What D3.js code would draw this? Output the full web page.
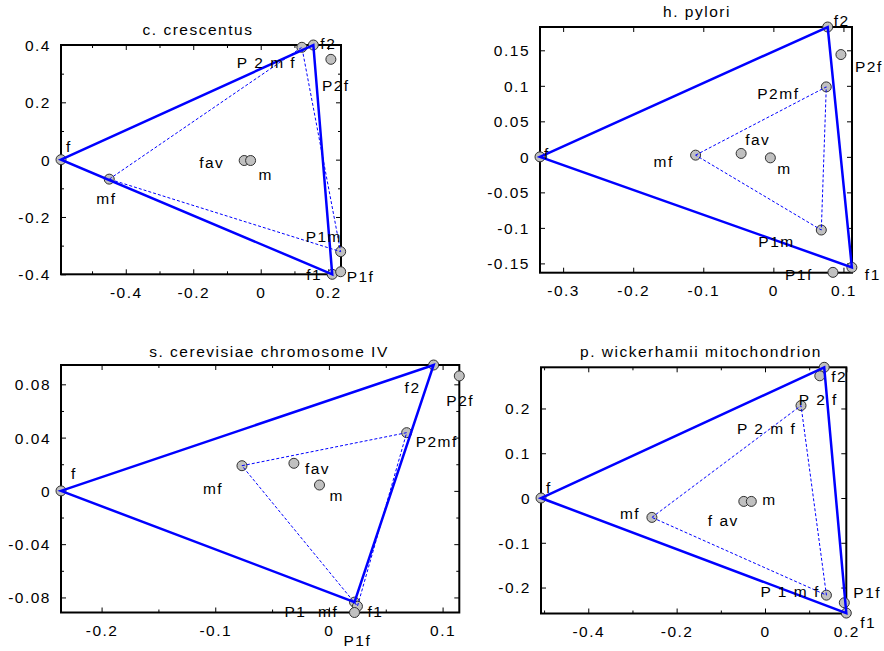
<!DOCTYPE html>
<html>
<head>
<meta charset="utf-8">
<script src="https://cdn.jsdelivr.net/npm/d3@7"></script>
<style>
  html, body { margin: 0; padding: 0; background: #fff; }
  svg { display: block; }
  text { font-family: "Liberation Sans", Arial, sans-serif; font-size: 15.5px; letter-spacing: 1.5px; fill: #000; white-space: pre; }
</style>
</head>
<body>
<svg id="chart" width="884" height="651"></svg>
<script>
// ---------------- DATA ----------------
const panelTitles = ["c. crescentus", "h. pylori", "s. cerevisiae chromosome IV", "p. wickerhamii mitochondrion"];

// Panel 1: c. crescentus
const ccNames = ["f", "f2", "P2mf", "P2f", "fav", "m", "mf", "P1m", "f1", "P1f"];
const ccLabels = ["f", "f2", "P 2 m f", "P2f", "fav", "m", "mf", "P1m", "f1", "P1f"];
const ccX = [-0.592, 0.156, 0.122, 0.208, -0.049, -0.030, -0.449, 0.237, 0.212, 0.237];
const ccY = [0.000, 0.400, 0.392, 0.350, -0.003, -0.003, -0.068, -0.321, -0.400, -0.391];
const ccXDomain = [-0.592, 0.238];
const ccYDomain = [-0.4, 0.4];
const ccXTicks = [-0.4, -0.2, 0, 0.2];
const ccXMinor = [-0.5, -0.3, -0.1, 0.1];
const ccYTicks = [-0.4, -0.2, 0, 0.2, 0.4];
const ccYMinor = [-0.3, -0.1, 0.1, 0.3];
const ccSolid = ["f", "f2", "f1"];
const ccDashed = ["mf", "P2mf", "P1m"];

// Panel 2: h. pylori
const hpNames = ["f", "f2", "P2f", "P2mf", "fav", "m", "mf", "P1m", "f1", "P1f"];
const hpLabels = ["f", "f2", "P2f", "P2mf", "fav", "m", "mf", "P1m", "f1", "P1f"];
const hpX = [-0.333, 0.0775, 0.0964, 0.0755, -0.046, -0.0043, -0.111, 0.0684, 0.112, 0.085];
const hpY = [0.000, 0.1828, 0.144, 0.0985, 0.0048, -0.0014, 0.0024, -0.103, -0.1556, -0.1626];
const hpXDomain = [-0.333, 0.1122];
const hpYDomain = [-0.1631, 0.1828];
const hpXTicks = [-0.3, -0.2, -0.1, 0, 0.1];
const hpXMinor = [];
const hpYTicks = [-0.15, -0.1, -0.05, 0, 0.05, 0.1, 0.15];
const hpYMinor = [];
const hpSolid = ["f", "f2", "f1"];
const hpDashed = ["mf", "P2mf", "P1m"];

// Panel 3: s. cerevisiae chromosome IV
const scNames = ["f", "f2", "P2f", "P2mf", "mf", "fav", "m", "f1", "P1mf", "P1f"];
const scLabels = ["f", "f2", "P2f", "P2mf", "mf", "fav", "m", "f1", "P1  mf", "P1f"];
const scX = [-0.2357, 0.0921, 0.1147, 0.0684, -0.0765, -0.0308, -0.0083, 0.0225, 0.0251, 0.0225];
const scY = [0.000, 0.0945, 0.0863, 0.0437, 0.0189, 0.0207, 0.0044, -0.0835, -0.0866, -0.0913];
const scXDomain = [-0.2357, 0.1147];
const scYDomain = [-0.0913, 0.0945];
const scXTicks = [-0.2, -0.1, 0, 0.1];
const scXMinor = [-0.15, -0.05, 0.05];
const scYTicks = [-0.08, -0.04, 0, 0.04, 0.08];
const scYMinor = [-0.06, -0.02, 0.02, 0.06];
const scSolid = ["f", "f2", "f1"];
const scDashed = ["mf", "P2mf", "P1mf"];

// Panel 4: p. wickerhamii mitochondrion
const pwNames = ["f", "f2", "P2f", "P2mf", "fav", "m", "mf", "P1mf", "P1f", "f1"];
const pwLabels = ["f", "f2", "P 2 f", "P 2 m f", "f av", "m", "mf", "P 1 m f", "P1f", "f1"];
const pwX = [-0.507, 0.134, 0.124, 0.0815, -0.048, -0.031, -0.256, 0.139, 0.1795, 0.184];
const pwY = [0.000, 0.292, 0.273, 0.2065, -0.0076, -0.0076, -0.0433, -0.217, -0.234, -0.257];
const pwXDomain = [-0.507, 0.184];
const pwYDomain = [-0.258, 0.292];
const pwXTicks = [-0.4, -0.2, 0, 0.2];
const pwXMinor = [-0.5, -0.3, -0.1, 0.1];
const pwYTicks = [-0.2, -0.1, 0, 0.1, 0.2];
const pwYMinor = [];
const pwSolid = ["f", "f2", "f1"];
const pwDashed = ["mf", "P2mf", "P1mf"];

// ---------------- LAYOUT / STYLE ----------------
const layouts = [
  { left: 61,  right: 341,   top: 45,    bottom: 274.3, titleX: 198, titleY: 35 },
  { left: 540, right: 852,   top: 27,    bottom: 272.7, titleX: 697, titleY: 17 },
  { left: 61,  right: 459.3, top: 365,   bottom: 612.5, titleX: 269, titleY: 357 },
  { left: 541, right: 846.3, top: 367.3, bottom: 613.5, titleX: 701, titleY: 357 }
];
// label offsets (pixels, start x / baseline y relative to the point)
const ccOffsets = [[5,-8],[7,4],[-65,21],[-9,32],[-45,7],[8,19],[-13,25],[-35,-10],[-26,6],[6,10]];
const hpOffsets = [[4,2],[6,-1],[14,17],[-69,12],[4,-8],[7,16],[-42,12],[-63,17],[13,13],[-48,8]];
const scOffsets = [[10,-12],[-29,28],[-13,30],[9,14],[-39,28],[11,11],[10,16],[13,15],[-73,11],[-11,33]];
const pwOffsets = [[5,-5],[7,15],[-21,29],[-64,28],[-36,25],[11,4],[-32,2],[-66,2],[9,-5],[14,15]];

const BLUE = "#0000ff";

const panels = [
  { title: panelTitles[0], names: ccNames, labels: ccLabels, xs: ccX, ys: ccY, xDom: ccXDomain, yDom: ccYDomain,
    xt: ccXTicks, xm: ccXMinor, yt: ccYTicks, ym: ccYMinor, solid: ccSolid, dashed: ccDashed, offs: ccOffsets },
  { title: panelTitles[1], names: hpNames, labels: hpLabels, xs: hpX, ys: hpY, xDom: hpXDomain, yDom: hpYDomain,
    xt: hpXTicks, xm: hpXMinor, yt: hpYTicks, ym: hpYMinor, solid: hpSolid, dashed: hpDashed, offs: hpOffsets },
  { title: panelTitles[2], names: scNames, labels: scLabels, xs: scX, ys: scY, xDom: scXDomain, yDom: scYDomain,
    xt: scXTicks, xm: scXMinor, yt: scYTicks, ym: scYMinor, solid: scSolid, dashed: scDashed, offs: scOffsets },
  { title: panelTitles[3], names: pwNames, labels: pwLabels, xs: pwX, ys: pwY, xDom: pwXDomain, yDom: pwYDomain,
    xt: pwXTicks, xm: pwXMinor, yt: pwYTicks, ym: pwYMinor, solid: pwSolid, dashed: pwDashed, offs: pwOffsets }
];

const svg = d3.select("#chart");
const fmt = v => String(v);

panels.forEach((p, i) => {
  const L = layouts[i];
  const x = d3.scaleLinear().domain(p.xDom).range([L.left, L.right]).clamp(true);
  const y = d3.scaleLinear().domain(p.yDom).range([L.bottom, L.top]).clamp(true);
  const g = svg.append("g");

  const pts = p.names.map((n, k) => ({ name: n, label: p.labels[k], x: p.xs[k], y: p.ys[k], off: p.offs[k] }));
  const byName = {};
  pts.forEach(d => byName[d.name] = d);

  // axes (ticks inward, mirrored)
  const mk = (axis, tr, vals, size, labels, pad) => {
    const a = axis.tickValues(vals).tickSize(-size).tickPadding(pad).tickFormat(labels ? fmt : () => "");
    const ag = g.append("g").attr("transform", tr).call(a);
    ag.select(".domain").remove();
    ag.selectAll("line").attr("stroke", "#000").attr("stroke-width", 1);
    ag.selectAll("text").attr("font-family", null).attr("font-size", null).attr("fill", "#000");
    return ag;
  };
  mk(d3.axisBottom(x), `translate(0,${L.bottom})`, p.xt, 5, true, 12.5);
  mk(d3.axisBottom(x), `translate(0,${L.bottom})`, p.xm, 3, false, 0);
  mk(d3.axisTop(x), `translate(0,${L.top})`, p.xt, 5, false, 0);
  mk(d3.axisTop(x), `translate(0,${L.top})`, p.xm, 3, false, 0);
  const la = mk(d3.axisLeft(y), `translate(${L.left},0)`, p.yt, 5, true, 10);
  la.selectAll("text").attr("dy", "0.35em");
  mk(d3.axisLeft(y), `translate(${L.left},0)`, p.ym, 3, false, 0);
  mk(d3.axisRight(y), `translate(${L.right},0)`, p.yt, 5, false, 0);
  mk(d3.axisRight(y), `translate(${L.right},0)`, p.ym, 3, false, 0);

  // box
  g.append("rect")
    .attr("x", L.left).attr("y", L.top)
    .attr("width", L.right - L.left).attr("height", L.bottom - L.top)
    .attr("fill", "none").attr("stroke", "#000").attr("stroke-width", 2);

  // title
  g.append("text").attr("x", L.titleX).attr("y", L.titleY)
    .attr("text-anchor", "middle").text(p.title);

  // points
  g.selectAll("circle.pt").data(pts).enter().append("circle")
    .attr("class", "pt")
    .attr("cx", d => x(d.x)).attr("cy", d => y(d.y)).attr("r", 5)
    .attr("fill", "#c0c0c0").attr("stroke", "#303030").attr("stroke-width", 1);

  const line = d3.line().x(d => x(d.x)).y(d => y(d.y)).curve(d3.curveLinearClosed);

  // solid triangle
  g.append("path").datum(p.solid.map(n => byName[n]))
    .attr("d", line).attr("fill", "none").attr("stroke", BLUE)
    .attr("stroke-width", 2.5).attr("stroke-linejoin", "miter");

  // dashed triangle
  g.append("path").datum(p.dashed.map(n => byName[n]))
    .attr("d", line).attr("fill", "none").attr("stroke", BLUE)
    .attr("stroke-width", 1).attr("stroke-dasharray", "3,2");

  // labels
  g.selectAll("text.lbl").data(pts).enter().append("text")
    .attr("class", "lbl")
    .attr("x", d => x(d.x) + d.off[0]).attr("y", d => y(d.y) + d.off[1])
    .text(d => d.label);
});
</script>
</body>
</html>
